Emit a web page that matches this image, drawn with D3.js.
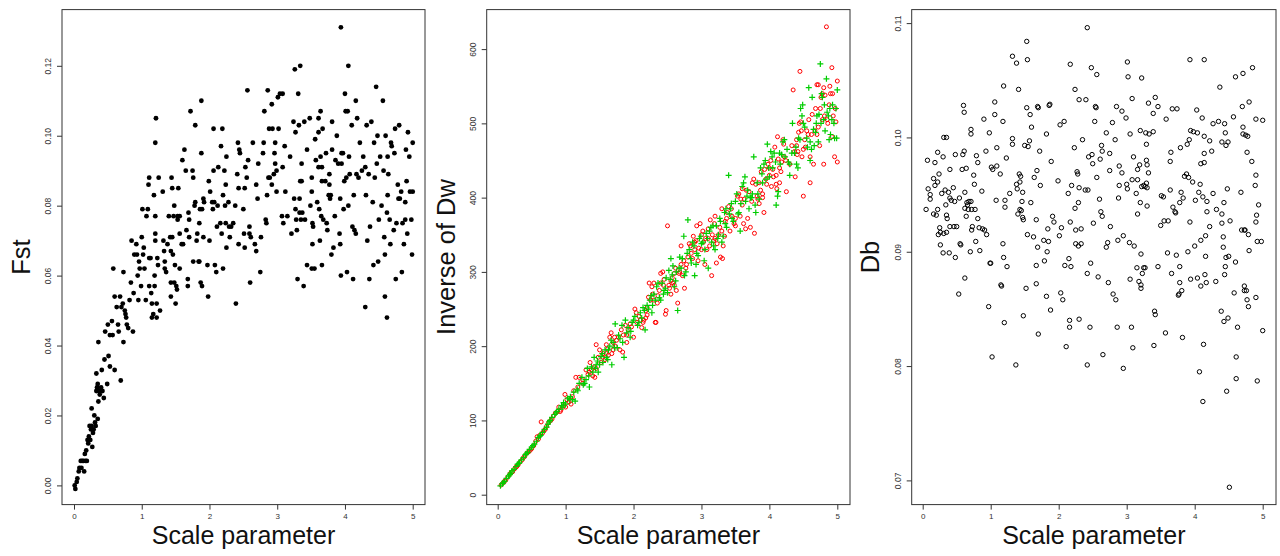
<!DOCTYPE html>
<html>
<head>
<meta charset="utf-8">
<script src="https://cdn.jsdelivr.net/npm/d3@7"></script>
<style>
  body { margin: 0; background: #fff; }
  svg { display: block; font-family: "Liberation Sans", Arial, sans-serif; }
</style>
</head>
<body>
<svg id="chart" width="1280" height="556"></svg>
<script>
// ---- data ----
const xTicks = [0, 1, 2, 3, 4, 5];
const fstTicks = [0, 0.02, 0.04, 0.06, 0.08, 0.10, 0.12];
const dwTicks = [0, 100, 200, 300, 400, 500, 600];
const dbTicks = [0.07, 0.08, 0.09, 0.10, 0.11];
const xTitle = 'Scale parameter';

// panel 1: Fst vs scale parameter
const fstPoints = [
  [0.01,0.000],[0.02,-0.001],[0.04,0.001],[0.05,0.002],[0.07,0.004],[0.08,0.005],[0.10,0.007],[0.11,0.005],
  [0.12,0.007],[0.14,0.007],[0.15,0.004],[0.16,0.009],[0.17,0.007],[0.18,0.010],[0.19,0.007],[0.20,0.013],
  [0.21,0.012],[0.22,0.014],[0.23,0.017],[0.24,0.013],[0.25,0.016],[0.26,0.022],[0.26,0.017],[0.27,0.011],
  [0.28,0.015],[0.29,0.016],[0.30,0.020],[0.31,0.018],[0.32,0.017],[0.33,0.027],[0.33,0.032],[0.34,0.028],
  [0.35,0.029],[0.35,0.019],[0.36,0.041],[0.36,0.024],[0.37,0.027],[0.38,0.026],[0.40,0.028],[0.41,0.033],
  [0.42,0.027],[0.44,0.025],[0.45,0.036],[0.46,0.044],[0.49,0.029],[0.50,0.046],[0.51,0.037],[0.53,0.034],
  [0.53,0.043],[0.56,0.047],[0.57,0.043],[0.58,0.062],[0.60,0.033],[0.60,0.054],[0.63,0.051],[0.65,0.046],
  [0.66,0.044],[0.68,0.054],[0.69,0.030],[0.70,0.051],[0.72,0.052],[0.73,0.041],[0.73,0.061],[0.75,0.050],
  [0.76,0.049],[0.77,0.048],[0.78,0.046],[0.80,0.045],[0.82,0.053],[0.84,0.058],[0.85,0.070],[0.87,0.044],
  [0.88,0.055],[0.89,0.066],[0.92,0.069],[0.93,0.066],[0.94,0.060],[0.95,0.053],[0.96,0.064],[0.97,0.062],
  [0.99,0.057],[1.00,0.071],[1.01,0.079],[1.02,0.066],[1.03,0.068],[1.04,0.062],[1.06,0.053],[1.07,0.077],
  [1.09,0.079],[1.10,0.086],[1.11,0.088],[1.11,0.057],[1.11,0.065],[1.13,0.065],[1.14,0.055],[1.15,0.052],
  [1.15,0.048],[1.17,0.049],[1.18,0.083],[1.19,0.060],[1.19,0.057],[1.20,0.098],[1.20,0.077],[1.20,0.072],
  [1.20,0.070],[1.21,0.105],[1.22,0.052],[1.22,0.048],[1.23,0.065],[1.24,0.063],[1.25,0.088],[1.27,0.050],
  [1.31,0.084],[1.32,0.070],[1.33,0.067],[1.34,0.064],[1.34,0.062],[1.36,0.061],[1.38,0.069],[1.40,0.077],
  [1.42,0.071],[1.43,0.067],[1.43,0.058],[1.43,0.054],[1.44,0.088],[1.45,0.071],[1.45,0.085],[1.46,0.066],
  [1.47,0.077],[1.48,0.058],[1.48,0.080],[1.49,0.063],[1.50,0.052],[1.51,0.057],[1.52,0.056],[1.53,0.077],
  [1.53,0.076],[1.54,0.085],[1.56,0.077],[1.56,0.072],[1.56,0.062],[1.59,0.069],[1.60,0.093],[1.61,0.069],
  [1.63,0.096],[1.65,0.090],[1.66,0.073],[1.68,0.057],[1.68,0.059],[1.69,0.078],[1.70,0.076],[1.70,0.071],
  [1.72,0.107],[1.75,0.090],[1.76,0.088],[1.76,0.064],[1.78,0.080],[1.79,0.103],[1.79,0.081],[1.81,0.070],
  [1.82,0.072],[1.84,0.064],[1.85,0.064],[1.85,0.075],[1.86,0.079],[1.87,0.058],[1.88,0.110],[1.88,0.095],
  [1.89,0.057],[1.89,0.079],[1.91,0.082],[1.91,0.071],[1.92,0.081],[1.97,0.063],[1.98,0.054],[1.99,0.087],
  [2.00,0.070],[2.01,0.084],[2.04,0.081],[2.05,0.079],[2.06,0.102],[2.06,0.090],[2.07,0.081],[2.08,0.063],
  [2.10,0.061],[2.11,0.074],[2.12,0.080],[2.13,0.091],[2.16,0.075],[2.17,0.097],[2.18,0.072],[2.19,0.102],
  [2.20,0.083],[2.20,0.062],[2.22,0.090],[2.23,0.080],[2.24,0.086],[2.24,0.075],[2.25,0.094],[2.25,0.068],
  [2.28,0.081],[2.29,0.074],[2.30,0.071],[2.32,0.074],[2.35,0.075],[2.38,0.080],[2.39,0.052],[2.41,0.089],
  [2.42,0.098],[2.43,0.085],[2.43,0.069],[2.44,0.096],[2.45,0.095],[2.50,0.079],[2.51,0.072],[2.52,0.068],
  [2.52,0.085],[2.53,0.091],[2.55,0.088],[2.56,0.113],[2.57,0.093],[2.59,0.074],[2.59,0.072],[2.60,0.058],
  [2.61,0.071],[2.64,0.098],[2.67,0.069],[2.69,0.067],[2.69,0.086],[2.71,0.082],[2.72,0.092],[2.75,0.061],
  [2.76,0.071],[2.79,0.095],[2.80,0.098],[2.81,0.107],[2.83,0.076],[2.84,0.075],[2.85,0.083],[2.86,0.113],
  [2.87,0.088],[2.88,0.102],[2.89,0.088],[2.92,0.086],[2.92,0.109],[2.93,0.102],[2.95,0.089],[2.96,0.095],
  [2.97,0.092],[2.97,0.098],[2.99,0.084],[2.99,0.090],[3.01,0.111],[3.02,0.102],[3.04,0.112],[3.07,0.077],
  [3.08,0.112],[3.08,0.091],[3.09,0.075],[3.11,0.097],[3.12,0.084],[3.15,0.077],[3.19,0.094],[3.21,0.072],
  [3.24,0.104],[3.25,0.082],[3.26,0.119],[3.27,0.101],[3.27,0.079],[3.28,0.076],[3.29,0.073],[3.30,0.059],
  [3.31,0.112],[3.32,0.103],[3.33,0.082],[3.33,0.078],[3.34,0.120],[3.34,0.087],[3.35,0.076],[3.36,0.087],
  [3.36,0.092],[3.37,0.078],[3.39,0.057],[3.40,0.104],[3.41,0.076],[3.44,0.063],[3.44,0.096],[3.48,0.105],
  [3.49,0.080],[3.51,0.084],[3.51,0.088],[3.51,0.062],[3.52,0.069],[3.52,0.075],[3.53,0.074],[3.55,0.062],
  [3.56,0.099],[3.57,0.093],[3.59,0.081],[3.61,0.105],[3.61,0.101],[3.61,0.091],[3.62,0.079],[3.63,0.070],
  [3.64,0.107],[3.64,0.094],[3.65,0.077],[3.66,0.091],[3.66,0.063],[3.66,0.087],[3.67,0.102],[3.68,0.076],
  [3.71,0.087],[3.72,0.095],[3.73,0.075],[3.74,0.073],[3.76,0.083],[3.77,0.086],[3.77,0.089],[3.78,0.082],
  [3.79,0.083],[3.80,0.066],[3.81,0.096],[3.81,0.104],[3.83,0.068],[3.85,0.077],[3.86,0.093],[3.88,0.100],
  [3.90,0.092],[3.92,0.072],[3.93,0.082],[3.93,0.069],[3.94,0.060],[3.94,0.131],[3.95,0.095],[3.95,0.092],
  [3.97,0.095],[3.98,0.079],[3.99,0.087],[4.00,0.112],[4.01,0.107],[4.02,0.088],[4.03,0.061],[4.04,0.107],
  [4.05,0.120],[4.05,0.080],[4.06,0.094],[4.07,0.089],[4.10,0.103],[4.11,0.074],[4.12,0.059],[4.13,0.083],
  [4.14,0.073],[4.16,0.072],[4.16,0.110],[4.17,0.089],[4.18,0.105],[4.20,0.088],[4.22,0.098],[4.25,0.090],
  [4.27,0.094],[4.30,0.051],[4.30,0.091],[4.31,0.083],[4.32,0.103],[4.33,0.070],[4.35,0.089],[4.36,0.059],
  [4.37,0.074],[4.39,0.104],[4.41,0.081],[4.42,0.063],[4.43,0.098],[4.44,0.088],[4.46,0.114],[4.47,0.092],
  [4.48,0.100],[4.49,0.064],[4.50,0.076],[4.52,0.094],[4.54,0.080],[4.56,0.110],[4.57,0.090],[4.58,0.071],
  [4.59,0.066],[4.60,0.100],[4.59,0.054],[4.62,0.078],[4.62,0.048],[4.63,0.094],[4.63,0.083],[4.64,0.089],
  [4.66,0.076],[4.67,0.069],[4.68,0.098],[4.69,0.097],[4.72,0.073],[4.73,0.095],[4.74,0.102],[4.75,0.059],
  [4.76,0.075],[4.78,0.086],[4.79,0.082],[4.80,0.103],[4.81,0.082],[4.83,0.084],[4.84,0.061],[4.85,0.075],
  [4.87,0.069],[4.89,0.076],[4.89,0.081],[4.90,0.096],[4.91,0.087],[4.92,0.072],[4.93,0.101],[4.95,0.094],
  [4.96,0.084],[4.98,0.076],[4.99,0.066],[5.00,0.098],[5.00,0.084]
];

// panel 2: inverse of Dw, two series
const dwRed = [
  [0.05,13],[0.08,16],[0.10,18],[0.12,20],[0.15,24],[0.18,28],[0.20,30],[0.22,31],[0.25,35],[0.27,37],
  [0.28,38],[0.30,40],[0.33,44],[0.36,47],[0.38,50],[0.40,52],[0.43,56],[0.46,58],[0.48,60],[0.50,62],
  [0.53,66],[0.56,72],[0.58,78],[0.60,75],[0.62,80],[0.64,98],[0.66,83],[0.68,86],[0.70,88],[0.72,92],
  [0.75,97],[0.78,100],[0.80,102],[0.82,106],[0.85,110],[0.88,112],[0.90,118],[0.92,112],[0.93,114],[0.97,120],
  [0.99,135],[1.00,118],[1.02,128],[1.05,125],[1.08,122],[1.10,132],[1.12,140],[1.15,158],[1.18,145],[1.20,158],
  [1.25,150],[1.25,155],[1.30,168],[1.33,162],[1.35,165],[1.36,178],[1.40,160],[1.42,172],[1.45,202],[1.45,170],
  [1.48,185],[1.50,195],[1.52,178],[1.55,190],[1.58,182],[1.60,202],[1.60,190],[1.63,188],[1.65,212],[1.67,218],
  [1.70,195],[1.70,205],[1.72,212],[1.75,208],[1.78,212],[1.80,195],[1.82,222],[1.85,215],[1.88,228],[1.90,205],
  [1.90,215],[1.95,230],[2.00,212],[2.02,250],[2.05,232],[2.08,240],[2.10,235],[2.12,225],[2.15,235],[2.18,248],
  [2.20,242],[2.20,252],[2.23,285],[2.25,262],[2.28,270],[2.30,285],[2.30,262],[2.33,232],[2.35,258],[2.38,275],
  [2.40,298],[2.40,285],[2.43,300],[2.45,290],[2.48,248],[2.50,362],[2.52,282],[2.55,270],[2.55,288],[2.58,285],
  [2.60,282],[2.60,298],[2.62,305],[2.65,258],[2.68,300],[2.70,335],[2.70,310],[2.72,295],[2.75,278],[2.78,310],
  [2.80,320],[2.82,338],[2.85,325],[2.88,348],[2.90,330],[2.90,340],[2.93,362],[2.95,315],[2.98,365],[3.00,350],
  [3.00,330],[3.03,340],[3.05,310],[3.08,330],[3.10,358],[3.10,345],[3.13,370],[3.15,295],[3.18,342],[3.20,375],
  [3.20,345],[3.22,312],[3.25,350],[3.28,320],[3.30,385],[3.30,355],[3.32,335],[3.35,368],[3.38,380],[3.40,388],
  [3.42,355],[3.45,375],[3.50,372],[3.50,362],[3.55,405],[3.58,398],[3.60,412],[3.60,390],[3.62,365],[3.65,358],
  [3.68,372],[3.72,360],[3.75,420],[3.78,352],[3.80,418],[3.82,402],[3.85,392],[3.85,420],[3.88,435],[3.90,400],
  [3.90,405],[3.92,380],[3.95,425],[3.98,445],[4.00,430],[4.00,440],[4.03,415],[4.05,438],[4.08,468],[4.10,418],
  [4.10,430],[4.12,482],[4.15,440],[4.15,420],[4.18,448],[4.20,478],[4.22,455],[4.25,408],[4.30,445],[4.35,545],
  [4.38,428],[4.40,478],[4.40,470],[4.42,462],[4.44,500],[4.45,570],[4.46,502],[4.48,455],[4.50,402],[4.50,465],
  [4.52,478],[4.55,490],[4.58,505],[4.60,420],[4.60,455],[4.62,485],[4.65,445],[4.68,520],[4.70,552],[4.70,485],
  [4.72,495],[4.74,470],[4.76,535],[4.78,505],[4.80,445],[4.80,548],[4.82,538],[4.84,630],[4.86,500],[4.88,525],
  [4.90,540],[4.92,575],[4.92,482],[4.94,510],[4.96,455],[4.98,502],[5.00,448],[5.00,557],
  [1.38,168],[1.43,158],[1.55,185],[1.62,196],[1.68,190],[1.73,200],[1.84,192],[1.92,222],[1.97,226],[2.04,245],
  [2.14,232],[2.18,238],[2.22,266],[2.27,280],[2.32,232],[2.36,268],[2.44,282],[2.47,243],[2.53,278],[2.57,292],
  [2.63,275],[2.67,298],[2.74,315],[2.77,305],[2.84,335],[2.87,318],[2.92,342],[2.96,332],[3.02,355],[3.06,345],
  [3.12,335],[3.16,350],[3.19,365],[3.23,338],[3.27,360],[3.31,318],[3.34,348],[3.37,372],[3.44,385],[3.48,365],
  [3.53,402],[3.57,375],[3.63,398],[3.66,410],[3.70,408],[3.74,395],[3.77,425],[3.83,398],[3.87,410],[3.93,438],
  [3.96,418],[4.02,450],[4.06,428],[4.11,412],[4.13,452],[4.17,435],[4.21,472],[4.24,450],[4.33,470],[4.37,462],
  [4.41,458],[4.43,488],[4.47,490],[4.53,468],[4.57,485],[4.63,512],[4.67,490],[4.72,552],[4.75,520],[4.78,540],
  [4.81,510],[4.85,505],[4.89,550],[4.93,540],[4.97,520]
];
const dwGreen = [
  [0.04,12],[0.07,15],[0.08,16],[0.10,18],[0.13,22],[0.16,25],[0.18,27],[0.19,29],[0.21,32],[0.24,34],
  [0.27,38],[0.29,41],[0.31,42],[0.32,43],[0.35,47],[0.38,50],[0.41,54],[0.42,55],[0.44,57],[0.47,61],
  [0.50,64],[0.52,66],[0.54,68],[0.57,72],[0.60,77],[0.62,79],[0.63,80],[0.66,84],[0.69,88],[0.72,91],
  [0.74,95],[0.76,98],[0.77,100],[0.80,104],[0.84,108],[0.86,110],[0.87,112],[0.90,115],[0.94,120],[0.96,118],
  [0.97,124],[1.00,122],[1.03,130],[1.06,128],[1.07,132],[1.10,128],[1.14,126],[1.17,142],[1.18,140],[1.20,150],
  [1.24,158],[1.28,150],[1.30,155],[1.32,170],[1.35,145],[1.38,172],[1.40,165],[1.42,185],[1.45,175],[1.48,165],
  [1.50,175],[1.52,186],[1.55,178],[1.58,195],[1.60,185],[1.62,182],[1.65,200],[1.68,175],[1.70,205],[1.72,198],
  [1.73,230],[1.76,198],[1.80,210],[1.83,228],[1.84,205],[1.86,185],[1.88,235],[1.92,225],[1.95,212],[1.96,220],
  [1.98,232],[2.02,240],[2.06,228],[2.10,245],[2.12,238],[2.14,252],[2.17,222],[2.20,255],[2.24,262],[2.27,245],
  [2.28,255],[2.30,270],[2.34,280],[2.38,265],[2.40,262],[2.42,285],[2.45,275],[2.48,292],[2.50,272],[2.52,302],
  [2.55,318],[2.58,308],[2.60,280],[2.62,288],[2.65,248],[2.68,320],[2.70,305],[2.74,348],[2.75,295],[2.77,300],
  [2.80,370],[2.84,318],[2.85,312],[2.87,340],[2.90,295],[2.93,325],[2.95,322],[2.97,345],[3.00,338],[3.04,315],
  [3.05,330],[3.07,352],[3.10,305],[3.14,360],[3.15,340],[3.17,362],[3.20,330],[3.24,345],[3.25,350],[3.27,372],
  [3.30,340],[3.34,380],[3.35,365],[3.37,360],[3.40,430],[3.43,385],[3.45,372],[3.47,368],[3.50,395],[3.54,378],
  [3.55,380],[3.57,355],[3.60,415],[3.64,428],[3.65,395],[3.67,402],[3.70,385],[3.74,400],[3.75,405],[3.77,455],
  [3.80,380],[3.83,405],[3.85,398],[3.87,440],[3.90,420],[3.94,450],[3.95,425],[3.97,472],[4.00,428],[4.04,455],
  [4.05,440],[4.07,460],[4.10,390],[4.13,408],[4.15,460],[4.16,445],[4.20,475],[4.23,455],[4.26,465],[4.30,430],
  [4.30,445],[4.34,500],[4.37,460],[4.40,445],[4.42,440],[4.43,480],[4.46,520],[4.49,525],[4.50,500],[4.52,495],
  [4.56,468],[4.58,548],[4.60,450],[4.62,465],[4.63,535],[4.66,470],[4.69,500],[4.70,510],[4.72,475],[4.75,580],
  [4.77,540],[4.78,535],[4.80,505],[4.82,490],[4.84,560],[4.87,510],[4.88,478],[4.90,485],[4.93,525],[4.96,480],
  [4.98,520],[5.00,545],
  [1.12,138],[1.26,148],[1.34,160],[1.44,170],[1.47,180],[1.54,190],[1.63,195],[1.67,208],[1.78,215],[1.90,218],
  [2.00,235],[2.08,232],[2.16,248],[2.22,250],[2.26,268],[2.32,262],[2.36,285],[2.44,270],[2.47,278],[2.54,290],
  [2.57,296],[2.63,300],[2.67,305],[2.72,318],[2.79,325],[2.82,330],[2.89,335],[2.92,310],[2.99,348],[3.02,340],
  [3.09,345],[3.12,355],[3.18,335],[3.22,362],[3.28,368],[3.32,348],[3.36,385],[3.41,378],[3.44,392],[3.52,405],
  [3.58,392],[3.62,420],[3.68,410],[3.72,400],[3.79,390],[3.82,420],[3.89,432],[3.92,445],[3.99,440],[4.02,462],
  [4.09,448],[4.12,402],[4.18,458],[4.22,478],[4.28,448],[4.33,460],[4.39,468],[4.45,478],[4.48,510],[4.55,480],
  [4.60,475],[4.65,492],[4.68,488],[4.73,512],[4.76,500],[4.81,525],[4.85,515],[4.89,520],[4.92,505],[4.95,500],
  [4.99,480]
];

// panel 3: Db vs scale parameter
const dbPoints = [
  [0.05,0.0937],[0.07,0.0980],[0.08,0.0955],[0.11,0.0950],[0.11,0.0946],[0.16,0.0933],[0.16,0.0964],[0.18,0.0978],
  [0.18,0.0958],[0.20,0.0932],[0.22,0.0987],[0.22,0.0961],[0.22,0.0937],[0.23,0.0915],[0.24,0.0968],[0.25,0.0921],
  [0.26,0.0906],[0.26,0.0917],[0.28,0.0951],[0.30,0.0983],[0.30,0.0899],[0.31,0.1000],[0.31,0.0916],[0.33,0.0954],
  [0.34,0.0941],[0.35,0.1000],[0.35,0.0932],[0.36,0.0929],[0.35,0.0917],[0.38,0.0952],[0.39,0.0899],[0.40,0.0972],
  [0.40,0.0947],[0.40,0.0922],[0.42,0.0945],[0.45,0.0956],[0.46,0.0922],[0.48,0.0985],[0.47,0.0944],[0.48,0.0895],
  [0.50,0.0922],[0.53,0.0863],[0.54,0.0947],[0.55,0.0907],[0.56,0.0906],[0.58,0.0972],[0.59,0.0985],[0.60,0.1028],
  [0.61,0.1022],[0.61,0.0988],[0.62,0.0952],[0.62,0.0938],[0.62,0.0877],[0.64,0.0973],[0.64,0.0931],[0.65,0.0943],
  [0.66,0.0941],[0.67,0.0937],[0.68,0.0944],[0.70,0.0900],[0.71,0.1007],[0.71,0.1003],[0.71,0.0944],[0.72,0.0937],
  [0.72,0.0919],[0.73,0.0922],[0.75,0.0967],[0.76,0.0959],[0.77,0.0937],[0.78,0.0909],[0.79,0.0984],[0.81,0.0978],
  [0.81,0.0929],[0.83,0.0921],[0.84,0.0901],[0.87,0.0953],[0.88,0.0920],[0.90,0.1016],[0.91,0.0919],[0.93,0.0988],
  [0.94,0.0915],[0.97,0.0852],[0.98,0.1004],[0.99,0.0890],[1.00,0.0890],[1.01,0.0974],[1.02,0.0808],[1.03,0.0972],
  [1.06,0.1020],[1.06,0.1031],[1.08,0.0945],[1.09,0.0991],[1.09,0.0975],[1.14,0.0968],[1.15,0.0871],[1.16,0.0870],
  [1.18,0.1014],[1.18,0.0907],[1.19,0.1045],[1.19,0.0895],[1.20,0.0838],[1.21,0.0939],[1.21,0.0945],[1.23,0.0982],
  [1.24,0.0887],[1.28,0.0951],[1.32,0.0994],[1.32,0.1071],[1.32,0.0999],[1.37,0.0801],[1.38,0.1065],[1.38,0.0959],
  [1.39,0.0955],[1.40,0.0933],[1.41,0.1042],[1.42,0.0968],[1.43,0.0937],[1.43,0.0961],[1.44,0.0966],[1.45,0.0936],
  [1.46,0.0944],[1.47,0.0930],[1.47,0.0952],[1.48,0.0928],[1.48,0.0844],[1.50,0.0993],[1.52,0.0868],[1.53,0.1084],
  [1.53,0.1026],[1.54,0.1068],[1.54,0.0915],[1.55,0.0992],[1.57,0.0997],[1.58,0.1020],[1.59,0.0943],[1.60,0.1009],
  [1.63,0.0913],[1.64,0.0965],[1.67,0.0872],[1.67,0.0888],[1.67,0.0928],[1.68,0.0971],[1.69,0.1027],[1.69,0.0904],
  [1.70,0.1026],[1.70,0.0828],[1.72,0.0988],[1.73,0.0958],[1.78,0.0910],[1.79,0.0892],[1.82,0.1003],[1.82,0.0861],
  [1.83,0.0900],[1.84,0.0920],[1.85,0.0909],[1.86,0.1028],[1.87,0.1029],[1.88,0.0849],[1.89,0.0979],[1.91,0.0931],
  [1.93,0.0926],[1.99,0.0962],[2.01,0.0914],[2.02,0.1011],[2.03,0.0864],[2.04,0.0921],[2.06,0.0858],[2.08,0.1014],
  [2.09,0.0888],[2.11,0.0817],[2.14,0.0951],[2.15,0.0894],[2.16,0.0840],[2.16,0.0834],[2.17,0.1064],[2.17,0.0926],
  [2.18,0.0887],[2.19,0.0958],[2.23,0.0991],[2.24,0.1042],[2.24,0.0938],[2.25,0.0919],[2.25,0.0907],[2.27,0.0970],
  [2.28,0.0968],[2.29,0.0905],[2.29,0.0943],[2.30,0.0956],[2.30,0.1033],[2.30,0.0841],[2.33,0.0920],[2.33,0.0907],
  [2.35,0.0998],[2.39,0.0954],[2.40,0.1033],[2.42,0.1096],[2.42,0.0881],[2.42,0.0801],[2.43,0.0954],[2.44,0.0983],
  [2.46,0.0834],[2.47,0.0890],[2.48,0.1061],[2.49,0.0985],[2.50,0.0977],[2.51,0.0925],[2.53,0.1014],[2.54,0.1027],
  [2.55,0.1026],[2.56,0.0965],[2.56,0.1055],[2.58,0.0878],[2.60,0.0946],[2.61,0.0981],[2.62,0.0935],[2.63,0.0993],
  [2.64,0.0931],[2.64,0.0988],[2.65,0.0810],[2.70,0.1004],[2.70,0.0904],[2.72,0.0908],[2.73,0.0873],[2.75,0.0986],
  [2.75,0.0971],[2.76,0.0922],[2.79,0.1013],[2.80,0.0863],[2.83,0.0998],[2.84,0.0858],[2.85,0.1027],[2.86,0.0834],
  [2.87,0.0910],[2.88,0.0947],[2.89,0.0958],[2.89,0.0975],[2.93,0.1023],[2.93,0.0969],[2.95,0.0914],[2.95,0.0798],
  [2.99,0.1017],[3.00,0.0959],[3.01,0.1066],[3.01,0.0955],[3.02,0.1053],[3.04,0.0908],[3.05,0.1003],[3.05,0.0876],
  [3.07,0.0834],[3.08,0.0963],[3.08,0.1034],[3.09,0.0816],[3.10,0.0983],[3.11,0.0905],[3.14,0.0951],[3.15,0.0886],
  [3.16,0.0933],[3.16,0.0972],[3.16,0.0963],[3.18,0.0874],[3.19,0.0976],[3.20,0.1006],[3.20,0.0943],[3.21,0.0898],
  [3.21,0.0871],[3.21,0.0868],[3.22,0.1052],[3.22,0.0957],[3.23,0.0881],[3.25,0.0958],[3.25,0.0886],[3.27,0.0886],
  [3.27,0.0957],[3.28,0.1004],[3.29,0.0980],[3.29,0.0960],[3.29,0.0994],[3.30,0.0940],[3.30,0.0976],[3.30,0.0956],
  [3.32,0.1030],[3.32,0.0969],[3.33,0.1003],[3.39,0.1021],[3.39,0.1005],[3.40,0.0818],[3.41,0.0848],[3.42,0.1035],
  [3.42,0.0845],[3.46,0.0887],[3.46,0.1027],[3.50,0.0923],[3.51,0.0949],[3.54,0.0948],[3.55,0.0927],[3.57,0.0829],
  [3.58,0.1016],[3.60,0.0899],[3.61,0.0927],[3.64,0.0979],[3.64,0.0954],[3.65,0.0987],[3.66,0.0881],[3.67,0.1025],
  [3.68,0.0939],[3.71,0.0935],[3.72,0.0934],[3.73,0.0897],[3.74,0.1025],[3.76,0.0862],[3.77,0.0863],[3.78,0.0943],
  [3.78,0.0887],[3.78,0.0873],[3.79,0.0991],[3.80,0.0952],[3.81,0.0866],[3.82,0.0825],[3.83,0.0947],[3.85,0.0966],
  [3.88,0.0968],[3.89,0.0994],[3.90,0.0900],[3.91,0.0965],[3.92,0.0998],[3.93,0.1068],[3.93,0.0926],[3.94,0.1006],
  [3.94,0.0876],[3.97,0.0961],[3.98,0.1005],[4.00,0.0905],[4.01,0.0945],[4.03,0.1024],[4.04,0.1004],[4.04,0.0877],
  [4.06,0.0952],[4.07,0.0795],[4.08,0.0959],[4.09,0.0910],[4.09,0.0870],[4.09,0.0977],[4.11,0.1017],[4.12,0.0948],
  [4.12,0.0769],[4.13,0.0819],[4.14,0.1068],[4.14,0.1001],[4.14,0.0978],[4.14,0.0986],[4.15,0.0880],[4.16,0.0896],
  [4.16,0.0914],[4.17,0.0873],[4.18,0.0935],[4.18,0.0944],[4.22,0.0997],[4.22,0.0922],[4.25,0.0988],[4.27,0.1012],
  [4.27,0.0951],[4.31,0.0874],[4.32,0.0937],[4.35,0.1014],[4.37,0.1044],[4.39,0.0848],[4.40,0.0925],[4.40,0.0996],
  [4.40,0.0933],[4.42,0.0904],[4.42,0.0913],[4.43,0.0839],[4.43,0.0943],[4.44,0.1012],[4.44,0.0880],[4.45,0.0887],
  [4.45,0.1004],[4.46,0.0895],[4.46,0.0993],[4.47,0.0778],[4.48,0.0955],[4.49,0.0996],[4.49,0.0842],[4.50,0.0896],
  [4.51,0.0694],[4.52,0.0927],[4.57,0.1018],[4.58,0.0864],[4.60,0.0891],[4.60,0.1053],[4.61,0.0808],[4.61,0.0789],
  [4.63,0.0834],[4.68,0.0952],[4.69,0.0919],[4.70,0.1027],[4.71,0.1009],[4.71,0.1056],[4.71,0.1003],[4.73,0.0919],
  [4.73,0.0870],[4.73,0.0866],[4.74,0.0919],[4.75,0.1002],[4.76,0.0866],[4.77,0.0987],[4.77,0.0858],[4.78,0.1001],
  [4.79,0.0852],[4.79,0.0915],[4.80,0.0901],[4.80,0.1031],[4.84,0.0979],[4.85,0.1061],[4.89,0.0958],[4.90,0.0967],
  [4.90,0.0860],[4.90,0.0926],[4.90,0.1016],[4.91,0.0932],[4.92,0.0787],[4.92,0.0909],[4.94,0.0941],[4.98,0.0909],
  [5.00,0.1015],[5.00,0.0831]
];

// ---- layout ----
const svg = d3.select('#chart');
const frameTop = 9.6, frameBottom = 504.6;

function panel(cfg) {
  const x = d3.scaleLinear().domain([0, 5]).range(cfg.xRange);
  const y = d3.scaleLinear().domain(cfg.yDomain).range(cfg.yRange);
  const g = svg.append('g');

  // x axis
  const ax = g.append('g')
    .attr('transform', `translate(0,${frameBottom})`)
    .call(d3.axisBottom(x).tickValues(xTicks).tickSize(5).tickPadding(4).tickFormat(d3.format('d')));
  // y axis, labels parallel to the axis as in R
  const ay = g.append('g')
    .attr('transform', `translate(${cfg.left},0)`)
    .call(d3.axisLeft(y).tickValues(cfg.yTicks).tickSize(5).tickFormat(cfg.yFormat));
  ay.selectAll('text')
    .attr('x', 0).attr('y', -11).attr('dy', null)
    .attr('text-anchor', 'middle')
    .attr('transform', 'rotate(-90)');
  ay.selectAll('text').attr('font-size', 8.5);
  ax.selectAll('text').attr('font-size', 8);
  [ax, ay].forEach(a => {
    a.select('.domain').remove();
    a.selectAll('line').attr('stroke', '#333');
    a.selectAll('text').attr('fill', '#333')
      .attr('font-family', '"Liberation Sans", Arial, sans-serif');
  });

  // box
  g.append('rect')
    .attr('x', cfg.left).attr('y', frameTop)
    .attr('width', cfg.right - cfg.left).attr('height', frameBottom - frameTop)
    .attr('fill', 'none').attr('stroke', '#333').attr('stroke-width', 1);

  // titles
  g.append('text')
    .attr('x', (cfg.left + cfg.right) / 2).attr('y', 544)
    .attr('text-anchor', 'middle').attr('font-size', 25).attr('fill', '#111')
    .text(xTitle);
  g.append('text')
    .attr('transform', `translate(${cfg.yTitleX},257) rotate(-90)`)
    .attr('text-anchor', 'middle').attr('font-size', 25.5).attr('fill', '#111')
    .text(cfg.yTitle);

  return { g, x, y };
}

// panel 1
const p1 = panel({
  left: 62, right: 425, xRange: [74, 412.7],
  yDomain: [0, 0.12], yRange: [485.4, 65.8], yTicks: fstTicks, yFormat: d3.format('.2f'),
  yTitle: 'Fst', yTitleX: 30
});
p1.g.append('g').selectAll('circle')
  .data(fstPoints).join('circle')
  .attr('cx', d => p1.x(d[0])).attr('cy', d => p1.y(d[1]))
  .attr('r', 2.4).attr('fill', '#000');

// panel 2
const p2 = panel({
  left: 486.7, right: 850, xRange: [497.7, 837.3],
  yDomain: [0, 600], yRange: [494.7, 49.1], yTicks: dwTicks, yFormat: d3.format('d'),
  yTitle: 'Inverse of Dw', yTitleX: 455
});
p2.g.append('g').selectAll('circle')
  .data(dwRed).join('circle')
  .attr('cx', d => p2.x(d[0])).attr('cy', d => p2.y(d[1]))
  .attr('r', 2).attr('fill', 'none').attr('stroke', '#ff0000').attr('stroke-width', 1);
p2.g.append('g').selectAll('path')
  .data(dwGreen).join('path')
  .attr('transform', d => `translate(${p2.x(d[0])},${p2.y(d[1])})`)
  .attr('d', 'M-3,0H3M0,-3V3')
  .attr('stroke', '#00cd00').attr('stroke-width', 1.2);

// panel 3
const p3 = panel({
  left: 911.7, right: 1276, xRange: [922.7, 1262.7],
  yDomain: [0.07, 0.11], yRange: [480.4, 23.1], yTicks: dbTicks, yFormat: d3.format('.2f'),
  yTitle: 'Db', yTitleX: 879
});
p3.g.append('g').selectAll('circle')
  .data(dbPoints).join('circle')
  .attr('cx', d => p3.x(d[0])).attr('cy', d => p3.y(d[1]))
  .attr('r', 2.2).attr('fill', 'none').attr('stroke', '#000').attr('stroke-width', 1);
</script>
</body>
</html>
